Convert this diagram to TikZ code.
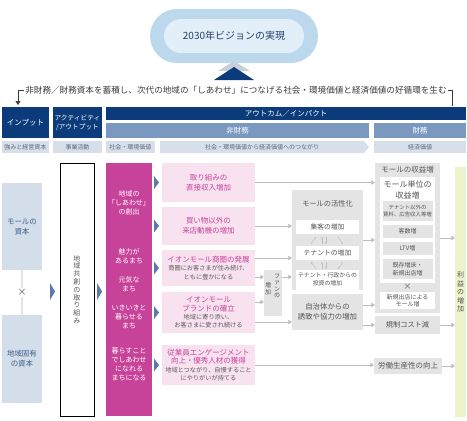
\documentclass[tikz,border=0pt]{standalone}
\usepackage{fontspec}
\setmainfont{Noto Sans CJK JP}
\usetikzlibrary{arrows.meta}
\definecolor{navy}{HTML}{0B3B7A}
\definecolor{midblue}{HTML}{7B98C0}
\definecolor{paleblue}{HTML}{D6DFEA}
\definecolor{tagtext}{HTML}{5C6878}
\definecolor{capblue}{HTML}{D3DEEA}
\definecolor{captext}{HTML}{3F5E8C}
\definecolor{chev}{HTML}{5A7BAA}
\definecolor{aeonmag}{HTML}{C7439A}
\definecolor{pinkbg}{HTML}{F9E2F0}
\definecolor{pinktxt}{HTML}{C7439A}
\definecolor{subgray}{HTML}{5A5A5A}
\definecolor{boxgray}{HTML}{E4E4E4}
\definecolor{txtgray}{HTML}{555555}
\definecolor{arrgray}{HTML}{BDBDBD}
\definecolor{visout}{HTML}{BBD8EC}
\definecolor{visin}{HTML}{E3EFF8}
\definecolor{visiontext}{HTML}{23406B}
\definecolor{trishadow}{HTML}{C9CFD8}
\definecolor{profitbg}{HTML}{EEF3CC}
\definecolor{slogantext}{HTML}{3A3A3A}
\newcommand{\fz}[2]{\fontsize{#1pt}{#2pt}\selectfont}
\newcommand{\pinkttl}[1]{\textcolor{pinktxt}{\fz{7.5}{9.5}#1}}
\begin{document}
\begin{tikzpicture}[x=1pt,y=-1pt,
  navybar/.style={fill=navy,text=white,inner sep=0pt,font=\fz{7.5}{9}},
  bluebar/.style={fill=midblue,text=white,inner sep=0pt,font=\fz{7.5}{9}},
  tagbox/.style={fill=paleblue,text=tagtext,inner sep=0pt,minimum height=12pt,font=\fz{6}{7}},
  capbox/.style={fill=capblue,text=captext,minimum width=40pt,minimum height=87pt,align=center,inner sep=0pt,font=\fz{7.5}{10}},
  magtext/.style={text=white,align=center,inner sep=0pt,font=\fz{7}{9}},
  pinkbox/.style={fill=pinkbg,text=subgray,minimum width=93pt,align=center,inner sep=0pt,font=\fz{6.2}{8.3}},
  graybox/.style={fill=boxgray,text=txtgray,align=center,inner sep=0pt},
  whitebox/.style={fill=white,text=txtgray,align=center,inner sep=0pt},
  flow/.style={draw=arrgray,line width=0.8pt,-{Triangle[length=3.5pt,width=4.5pt]}},
  minarrow/.style={draw=arrgray,line width=0.5pt,-{Stealth[length=1.8pt,width=2pt]}},
  fbline/.style={draw=slogantext,line width=0.7pt}]
\useasboundingbox (0,0) rectangle (467,421);

% vision
\node[fill=visout,rounded corners=27pt,minimum width=168pt,minimum height=54pt,inner sep=0pt] (visionout) at (234,36) {};
\node[fill=visin,rounded corners=17pt,minimum width=140pt,minimum height=34pt,inner sep=0pt,text=visiontext,font=\fz{10}{12}] (vision) at (234,36) {2030年ビジョンの実現};
\fill[trishadow] (234,61) -- (250,71) -- (218,71) -- cycle;
\fill[navy] (234,67) -- (254,80) -- (214,80) -- cycle;

% slogan and feedback bracket
\node[font=\fz{8.6}{10},text=slogantext,inner sep=1pt] (slogan) at (236,90) {非財務／財務資本を蓄積し、次代の地域の「しあわせ」につなげる社会・環境価値と経済価値の好循環を生む};
\coordinate (fbL) at (18,105);
\coordinate (fbR) at (452,106);
\draw[fbline,-{Triangle[length=4pt,width=5pt]}] (slogan.west) -| (fbL);
\draw[fbline] (slogan.east) -| (fbR);

% header rows
\node[navybar,minimum width=47pt,minimum height=31pt] (inp) at (25.5,122.5) {インプット};
\node[navybar,minimum width=49pt,minimum height=31pt,align=center,font=\fz{6.7}{9}] (act) at (77.5,122.5) {アクティビティ\\/アウトプット};
\node[navybar,minimum width=360pt,minimum height=13pt] (outc) at (286,113.5) {アウトカム／インパクト};
\node[bluebar,minimum width=263pt,minimum height=15pt] (nonfin) at (237.5,130.5) {非財務};
\node[bluebar,minimum width=92pt,minimum height=15pt] (fin) at (420,130.5) {財務};
\node[tagbox,minimum width=47pt] (r3a) at (25.5,147) {強みと経営資本};
\node[tagbox,minimum width=49pt] (r3b) at (77.5,147) {事業活動};
\node[tagbox,minimum width=49pt] (r3c) at (130.5,147) {社会・環境価値};
\fill[paleblue] (160,141) -- (364,141) -- (369,147) -- (364,153) -- (160,153) -- cycle;
\node[tagbox,fill=none] (r3d) at (262,147) {社会・環境価値から経済価値へのつながり};
\node[tagbox,minimum width=92pt] (r3e) at (420,147) {経済価値};

% input capitals
\node[capbox] (mallcap) at (22,226.5) {モールの\\資本};
\node[capbox,minimum height=88pt] (localcap) at (22,359) {地域固有\\の資本};
\draw[draw=boxgray,line width=1.5pt] (mallcap) -- (localcap)
  node[midway,fill=white,inner sep=1pt,text=txtgray,font=\fz{9}{10}] (cross) {×};

% activity and social value
\fill[chev] (50,283) -- (55,291.5) -- (50,300) -- cycle;
\node[draw=black,line width=0.6pt,fill=white,minimum width=34pt,minimum height=253pt,inner sep=0pt,align=center,font=\fz{7}{7.8},text=subgray] (coact) at (77,289.5) {地\\域\\共\\創\\の\\取\\り\\組\\み};
\fill[chev] (97,283) -- (102,291.5) -- (97,300) -- cycle;
\node[fill=aeonmag,minimum width=46pt,minimum height=253pt,inner sep=0pt] (happy) at (129,289.5) {};
\node[magtext] (h1) at (129,203) {地域の\\「しあわせ」\\の創出};
\node[magtext] (h2) at (129,256) {魅力が\\あるまち};
\node[magtext] (h3) at (129,284) {元気な\\まち};
\node[magtext] (h4) at (129,317) {いきいきと\\暮らせる\\まち};
\node[magtext] (h5) at (129,364) {暮らすこと\\でしあわせ\\になれる\\まちになる};
\foreach \yc in {182.5,226,268,312.5,365}
  \fill[chev] (154,\yc-6.5) -- (159,\yc) -- (154,\yc+6.5) -- cycle;

% links from social to economic value
\node[pinkbox,minimum height=39pt,text=pinktxt,font=\fz{7.5}{10}] (p1) at (208.5,182.5) {取り組みの\\直接収入増加};
\node[pinkbox,minimum height=38pt,text=pinktxt,font=\fz{7.5}{10}] (p2) at (208.5,226) {買い物以外の\\来店動機の増加};
\node[pinkbox,minimum height=36pt] (p3) at (208.5,268) {\pinkttl{イオンモール商圏の発展}\\商圏にお客さまが住み続け、\\ともに豊かになる};
\node[pinkbox,minimum height=41pt] (p4) at (208.5,312.5) {\pinkttl{イオンモール}\\\pinkttl{ブランドの確立}\\地域に寄り添い、\\お客さまに愛され続ける};
\node[pinkbox,minimum height=40pt] (p5) at (208.5,365) {\pinkttl{従業員エンゲージメント}\\\pinkttl{向上・優秀人材の獲得}\\地域とつながり、自慢すること\\にやりがいが持てる};

\node[graybox,minimum width=18pt,minimum height=46pt] (fan) at (273,293) {};
\node[text=txtgray,align=center,inner sep=0pt,font=\fz{6}{6.6}] (fanA) at (277,286) {フ\\ァ\\ン\\の};
\node[text=txtgray,align=center,inner sep=0pt,font=\fz{6}{6.6}] (fanB) at (268,289) {増\\加};

\node[graybox,minimum width=71pt,minimum height=100pt] (vital) at (327.5,240) {};
\node[text=txtgray,inner sep=0pt,font=\fz{7.2}{8}] (vitalT) at (327.5,204) {モールの活性化};
\node[whitebox,minimum width=63pt,minimum height=14pt,font=\fz{6.8}{8}] (shop) at (327.5,227) {集客の増加};
\node[whitebox,minimum width=63pt,minimum height=14pt,font=\fz{6.8}{8}] (tenant) at (327.5,253) {テナントの増加};
\node[whitebox,minimum width=63pt,minimum height=20pt,font=\fz{5.9}{7.5}] (invest) at (327.5,279.5) {テナント・行政からの\\投資の増加};
\draw[minarrow] (311,244) -- (316,237);
\draw[minarrow] (322,244) -- (322,237);
\draw[minarrow] (326,237) -- (326,244);
\draw[minarrow] (338,237) -- (343,244);
\draw[minarrow] (316,269) -- (311,262);
\draw[minarrow] (322,269) -- (322,262);
\draw[minarrow] (326,262) -- (326,269);
\draw[minarrow] (343,262) -- (338,269);
\node[graybox,minimum width=71pt,minimum height=36pt,font=\fz{7.4}{10}] (gov) at (327.5,312) {自治体からの\\誘致や協力の増加};

% economic value
\node[graybox,minimum width=65pt,minimum height=150pt] (rev) at (407.5,238) {};
\node[text=txtgray,inner sep=0pt,font=\fz{7.5}{9}] (revT) at (407.5,170) {モールの収益増};
\node[whitebox,minimum width=55pt,minimum height=106pt] (unit) at (407.5,230) {};
\node[text=txtgray,align=center,inner sep=0pt,font=\fz{8}{10.5}] (unitT) at (407.5,190) {モール単位の\\収益増};
\node[graybox,minimum width=50pt,minimum height=20pt,font=\fz{5.4}{7}] (s1) at (407.5,211) {テナント以外の\\賃料、広告収入等増};
\node[graybox,minimum width=50pt,minimum height=13pt,font=\fz{6}{7}] (s2) at (407.5,231.5) {客数増};
\node[graybox,minimum width=50pt,minimum height=13pt,font=\fz{6}{7}] (s3) at (407.5,248.5) {LTV増};
\node[graybox,minimum width=50pt,minimum height=20pt,font=\fz{6}{7.5}] (s4) at (407.5,269) {既存増床・\\新規出店増};
\node[text=txtgray,inner sep=0pt,font=\fz{8}{9}] (times) at (407.5,286.5) {×};
\node[whitebox,minimum width=55pt,minimum height=17pt,font=\fz{6}{7.5}] (newmall) at (407.5,300.5) {新規出店による\\モール増};
\node[graybox,minimum width=65pt,minimum height=18pt,font=\fz{7.2}{8}] (cost) at (407.5,325) {規制コスト減};
\node[graybox,minimum width=68pt,minimum height=16pt,font=\fz{7.5}{8}] (labor) at (408,366) {労働生産性の向上};
\node[fill=profitbg,minimum width=11pt,minimum height=250pt,inner sep=0pt,align=center,text=txtgray,font=\fz{7}{8.5}] (profit) at (460.5,292) {利\\益\\の\\増\\加};

% connectors
\coordinate (p3a) at ([yshift=10pt]p3.east);
\coordinate (p3b) at ([yshift=-9pt]p3.east);
\coordinate (p4a) at ([yshift=10.5pt]p4.east);
\coordinate (p4b) at ([yshift=-9.5pt]p4.east);
\coordinate (gova) at ([yshift=7pt]gov.east);
\draw[flow] (p1.east) -- (p1.east -| rev.west);
\draw[flow] (p2.east) -- (p2.east -| vital.west);
\draw[flow] (p3a) -- (p3a -| vital.west);
\draw[flow] (p3b) -- (p3b -| fan.west);
\draw[flow] (p3b -| fan.east) -- (p3b -| vital.west);
\draw[flow] (p4a) -- (p4a -| fan.west);
\draw[flow] (p4b) -- (p4b -| gov.west);
\draw[flow] (vital.east) -- (vital.east -| rev.west);
\draw[flow] (gova) -- (gova -| rev.west);
\draw[flow] (gov.east |- cost.west) -- (cost.west);
\draw[flow] (p5.east) -- (p5.east -| labor.west);
\draw[flow] (rev.east) -- (rev.east -| profit.west);
\draw[flow] (cost.east) -- (cost.east -| profit.west);
\draw[flow] (labor.east) -- (labor.east -| profit.west);
\end{tikzpicture}
\end{document}
